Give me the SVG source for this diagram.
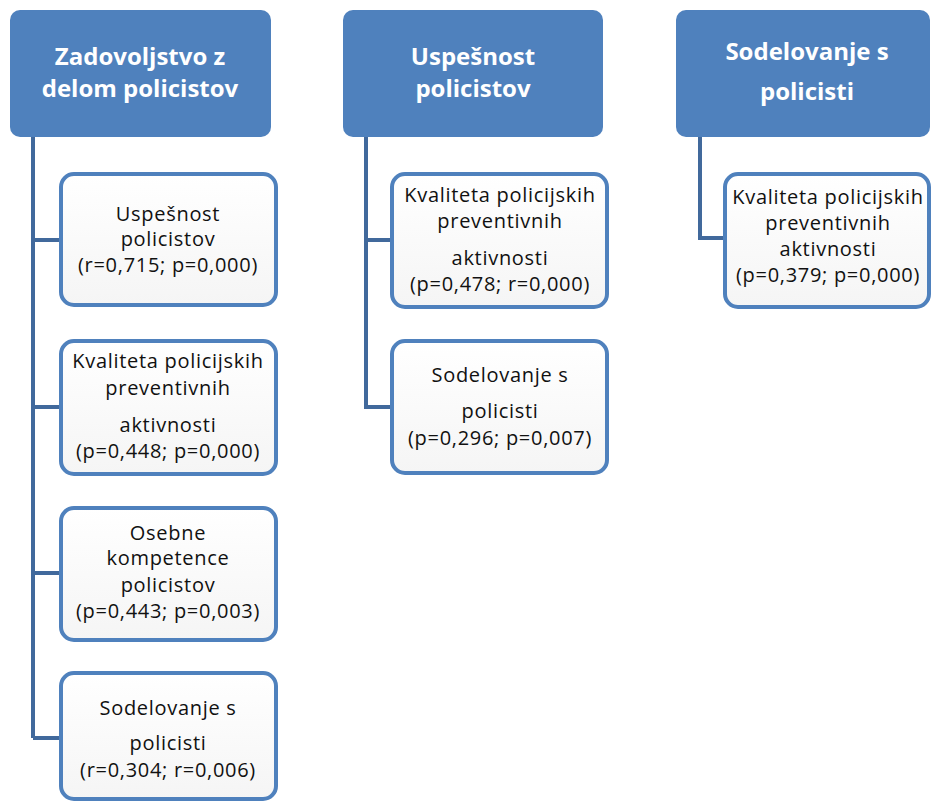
<svg xmlns="http://www.w3.org/2000/svg" width="931" height="801" viewBox="0 0 931 801">
<defs>
<linearGradient id="bf" x1="0" y1="0" x2="0" y2="1">
<stop offset="0" stop-color="#ffffff"/>
<stop offset="1" stop-color="#f5f5f5"/>
</linearGradient>
</defs>
<style>
.hdr{fill:#4f81bd;}
.ht{fill:#ffffff;font-family:"Open Sans","Noto Sans",sans-serif;font-weight:bold;font-size:24px;text-anchor:middle;}
.box{fill:url(#bf);stroke:#4f81bd;stroke-width:4;}
.bt{fill:#111111;font-family:"Open Sans","Noto Sans",sans-serif;font-size:20px;letter-spacing:0.7px;text-anchor:middle;}
.con{fill:none;stroke:#41699c;stroke-width:4;}
</style>
<rect width="931" height="801" fill="#ffffff"/>
<g id="connectors">
<path class="con" d="M33,137 V738 M33,240 H61 M33,407 H61 M33,573 H61 M33,738 H61"/>
<path class="con" d="M366,137 V407 H392 M366,240 H392"/>
<path class="con" d="M700,137 V238 H725"/>
</g>
<g id="h1">
<rect class="hdr" x="10" y="10" width="261" height="127" rx="10"/>
<text class="ht" x="140" y="65">Zadovoljstvo z</text>
<text class="ht" x="140" y="97">delom policistov</text>
</g>
<g id="h2">
<rect class="hdr" x="343" y="10" width="260" height="127" rx="10"/>
<text class="ht" x="473" y="65">Uspešnost</text>
<text class="ht" x="473" y="97">policistov</text>
</g>
<g id="h3">
<rect class="hdr" x="676" y="10" width="254" height="127" rx="10"/>
<text class="ht" x="807" y="60">Sodelovanje s</text>
<text class="ht" x="807" y="100">policisti</text>
</g>
<g id="c1a">
<rect class="box" x="61" y="174" width="215" height="131" rx="13"/>
<text class="bt" x="168" y="221">Uspešnost</text>
<text class="bt" x="168" y="246">policistov</text>
<text class="bt" x="168" y="272">(r=0,715; p=0,000)</text>
</g>
<g id="c1b">
<rect class="box" x="61" y="341" width="215" height="133" rx="13"/>
<text class="bt" x="168" y="368">Kvaliteta policijskih</text>
<text class="bt" x="168" y="395">preventivnih</text>
<text class="bt" x="168" y="432">aktivnosti</text>
<text class="bt" x="168" y="458">(p=0,448; p=0,000)</text>
</g>
<g id="c1c">
<rect class="box" x="61" y="508" width="215" height="132" rx="13"/>
<text class="bt" x="168" y="540">Osebne</text>
<text class="bt" x="168" y="565">kompetence</text>
<text class="bt" x="168" y="592">policistov</text>
<text class="bt" x="168" y="618">(p=0,443; p=0,003)</text>
</g>
<g id="c1d">
<rect class="box" x="61" y="673" width="215" height="126" rx="13"/>
<text class="bt" x="168" y="715">Sodelovanje s</text>
<text class="bt" x="168" y="750">policisti</text>
<text class="bt" x="168" y="777">(r=0,304; r=0,006)</text>
</g>
<g id="c2a">
<rect class="box" x="392" y="174" width="215" height="133" rx="13"/>
<text class="bt" x="500" y="202">Kvaliteta policijskih</text>
<text class="bt" x="500" y="228">preventivnih</text>
<text class="bt" x="500" y="265">aktivnosti</text>
<text class="bt" x="500" y="291">(p=0,478; r=0,000)</text>
</g>
<g id="c2b">
<rect class="box" x="392" y="341" width="215" height="132" rx="13"/>
<text class="bt" x="500" y="382">Sodelovanje s</text>
<text class="bt" x="500" y="418">policisti</text>
<text class="bt" x="500" y="445">(p=0,296; p=0,007)</text>
</g>
<g id="c3a">
<rect class="box" x="725" y="174" width="204" height="133" rx="13"/>
<text class="bt" x="828" y="204">Kvaliteta policijskih</text>
<text class="bt" x="828" y="230">preventivnih</text>
<text class="bt" x="828" y="256">aktivnosti</text>
<text class="bt" x="828" y="282">(p=0,379; p=0,000)</text>
</g>
</svg>
